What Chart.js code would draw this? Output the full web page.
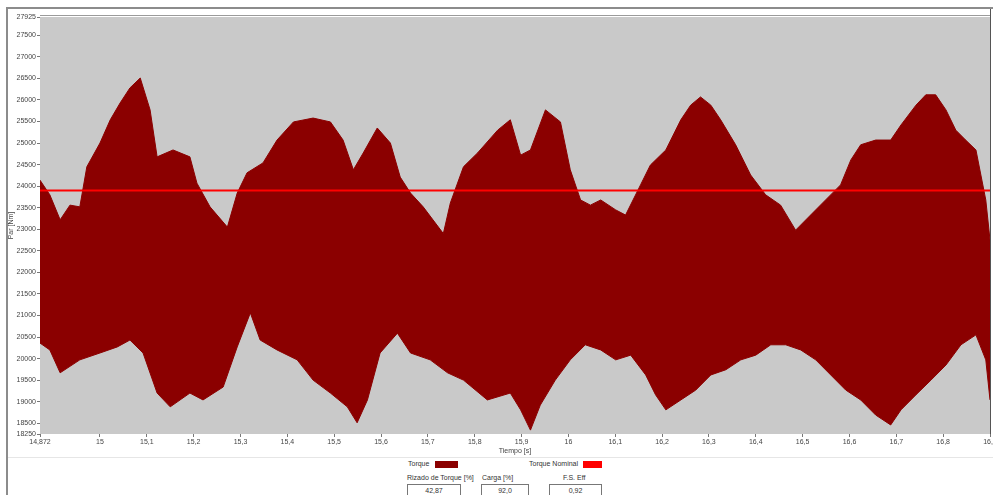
<!DOCTYPE html>
<html>
<head>
<meta charset="utf-8">
<script src="https://cdn.jsdelivr.net/npm/chart.js@4"></script>
<style>
  html, body { margin: 0; padding: 0; background: #fff; }
  body { width: 993px; height: 495px; position: relative; overflow: hidden; font-family: "Liberation Sans", Arial, sans-serif; }
  #frame { position: absolute; left: 6px; top: 7px; width: 993px; height: 495px; border-left: 2px solid #8c8c8c; border-top: 2px solid #8c8c8c; }
  #sep { position: absolute; left: 8px; top: 457px; width: 985px; height: 1px; background: #e6e6e6; }
  #wrap { position: absolute; left: 0; top: 0; width: 993px; height: 456px; }
  .lbl { position: absolute; font-size: 7px; color: #333; white-space: nowrap; }
  .sw { position: absolute; height: 7px; }
  .box { position: absolute; height: 11px; border: 1px solid #777; background: #fff; font-size: 7px; color: #333; text-align: center; line-height: 11px; }
</style>
</head>
<body>
<div id="frame"></div>
<div id="sep"></div>
<div id="wrap"><canvas id="torqueChart"></canvas></div>

<div class="lbl" style="left:408px; top:460px;">Torque</div>
<div class="sw" style="left:435px; top:461px; width:23px; background:#8b0000;"></div>
<div class="lbl" style="left:529px; top:460px;">Torque Nominal</div>
<div class="sw" style="left:583px; top:461px; width:19px; background:#ff0000;"></div>

<div class="lbl" style="left:407px; top:474px;">Rizado de Torque [%]</div>
<div class="lbl" style="left:482px; top:474px;">Carga [%]</div>
<div class="lbl" style="left:563px; top:474px;">F.S. Eff</div>
<div class="box" style="left:407px; top:484px; width:52px;">42,87</div>
<div class="box" style="left:481px; top:484px; width:46px;">92,0</div>
<div class="box" style="left:549px; top:484px; width:51px;">0,92</div>

<script>
// envolvente superior de la señal de torque
const tUpper = [14.872, 14.893, 14.915, 14.936, 14.957, 14.972, 15.000, 15.022, 15.043, 15.064,
  15.086, 15.107, 15.122, 15.156, 15.192, 15.207, 15.235, 15.272, 15.293, 15.314,
  15.348, 15.378, 15.413, 15.455, 15.492, 15.519, 15.541, 15.562, 15.592, 15.620,
  15.641, 15.663, 15.690, 15.733, 15.748, 15.776, 15.806, 15.849, 15.876, 15.898,
  15.919, 15.951, 15.983, 16.004, 16.026, 16.047, 16.069, 16.101, 16.122, 16.154,
  16.175, 16.208, 16.240, 16.261, 16.282, 16.304, 16.325, 16.357, 16.389, 16.421,
  16.453, 16.485, 16.517, 16.549, 16.581, 16.603, 16.624, 16.656, 16.688, 16.710,
  16.742, 16.763, 16.784, 16.806, 16.827, 16.848, 16.870, 16.891, 16.900];
const upper = [24140, 23800, 23220, 23560, 23520, 24450, 25000, 25540, 25930, 26280,
  26510, 25770, 24680, 24840, 24680, 24070, 23520, 23050, 23840, 24310,
  24540, 25070, 25490, 25580, 25490, 25070, 24380, 24770, 25350, 25000,
  24210, 23840, 23520, 22900, 23610, 24450, 24770, 25300, 25540, 24720,
  24840, 25770, 25490, 24380, 23680, 23560, 23680, 23450, 23330, 24030,
  24490, 24840, 25540, 25880, 26070, 25880, 25540, 24960, 24260, 23800,
  23560, 22980, 23330, 23680, 24030, 24610, 24960, 25070, 25070, 25420,
  25880, 26120, 26120, 25770, 25300, 25070, 24840, 23680, 22750];

// envolvente inferior
const tLower = [14.872, 14.893, 14.915, 14.957, 15.000, 15.037, 15.064, 15.092, 15.122, 15.150,
  15.192, 15.220, 15.263, 15.293, 15.321, 15.342, 15.378, 15.421, 15.455, 15.492,
  15.528, 15.549, 15.571, 15.598, 15.635, 15.663, 15.705, 15.742, 15.776, 15.827,
  15.876, 15.898, 15.919, 15.940, 15.972, 16.004, 16.036, 16.069, 16.101, 16.133,
  16.165, 16.186, 16.208, 16.240, 16.272, 16.304, 16.336, 16.368, 16.400, 16.432,
  16.464, 16.496, 16.528, 16.560, 16.592, 16.624, 16.656, 16.688, 16.710, 16.742,
  16.774, 16.806, 16.838, 16.870, 16.891, 16.900];
const lower = [20360, 20200, 19670, 19970, 20130, 20270, 20430, 20130, 19200, 18880,
  19200, 19040, 19340, 20270, 21060, 20430, 20200, 19970, 19500, 19200,
  18880, 18510, 19040, 20130, 20590, 20130, 19970, 19670, 19500, 19040,
  19200, 18810, 18340, 18920, 19500, 19970, 20320, 20200, 19970, 20080,
  19620, 19160, 18810, 19040, 19270, 19620, 19740, 19970, 20080, 20320,
  20320, 20200, 19970, 19620, 19270, 19040, 18690, 18460, 18810, 19160,
  19500, 19850, 20320, 20550, 19970, 19040];

const nominalTorque = 23900;

const xTicks = [14.872, 15, 15.1, 15.2, 15.3, 15.4, 15.5, 15.6, 15.7, 15.8, 15.9,
  16, 16.1, 16.2, 16.3, 16.4, 16.5, 16.6, 16.7, 16.8, 16.9];
const yTicks = [18250, 18500, 19000, 19500, 20000, 20500, 21000, 21500, 22000, 22500, 23000,
  23500, 24000, 24500, 25000, 25500, 26000, 26500, 27000, 27500, 27925];

const plotGray = '#c9c9c9';

const plotBackground = {
  id: 'plotBackground',
  beforeDraw(chart) {
    const { ctx, chartArea: a } = chart;
    ctx.save();
    ctx.fillStyle = plotGray;
    ctx.fillRect(a.left, a.top, a.right - a.left, a.bottom - a.top);
    ctx.restore();
  },
  afterDraw(chart) {
    const { ctx, chartArea: a } = chart;
    ctx.save();
    ctx.strokeStyle = '#9a9a9a';
    ctx.lineWidth = 1;
    ctx.beginPath();
    ctx.moveTo(a.left, a.top - 1.5);
    ctx.lineTo(a.right, a.top - 1.5);
    ctx.stroke();
    ctx.strokeStyle = '#555';
    ctx.beginPath();
    ctx.moveTo(a.right + 0.5, 9);
    ctx.lineTo(a.right + 0.5, a.bottom);
    ctx.stroke();
    ctx.restore();
  }
};

const toPoints = (xs, ys) => xs.map((x, i) => ({ x: x, y: ys[i] }));

Chart.defaults.font.family = '"Liberation Sans", Arial, sans-serif';
Chart.defaults.font.size = 7;
Chart.defaults.color = '#444';

const ctx = document.getElementById('torqueChart').getContext('2d');
const chart = new Chart(ctx, {
  type: 'line',
  data: {
    datasets: [
      {
        label: 'Torque Nominal',
        data: [{ x: xTicks[0], y: nominalTorque }, { x: xTicks[xTicks.length - 1], y: nominalTorque }],
        borderColor: '#ff0000',
        borderWidth: 2,
        pointRadius: 0,
        fill: false
      },
      {
        label: 'Torque (inf)',
        data: toPoints(tLower, lower),
        borderColor: '#8b0000',
        borderWidth: 1,
        backgroundColor: plotGray,
        pointRadius: 0,
        tension: 0,
        fill: 'start'
      },
      {
        label: 'Torque',
        data: toPoints(tUpper, upper),
        borderColor: '#8b0000',
        borderWidth: 1,
        backgroundColor: '#8b0000',
        pointRadius: 0,
        tension: 0,
        fill: 'start'
      }
    ]
  },
  options: {
    responsive: true,
    maintainAspectRatio: false,
    animation: false,
    layout: { padding: { top: 17, right: 3, left: 7, bottom: 0 } },
    plugins: {
      legend: { display: false },
      tooltip: { enabled: false }
    },
    scales: {
      x: {
        type: 'linear',
        min: 14.872,
        max: 16.9,
        afterBuildTicks: (scale) => { scale.ticks = xTicks.map(v => ({ value: v })); },
        afterFit: (scale) => {
          scale.height = 22;
          scale.paddingLeft = 0;
          scale.paddingRight = 0;
        },
        ticks: {
          autoSkip: false,
          maxRotation: 0,
          padding: 1,
          callback: (v) => String(v).replace('.', ',')
        },
        grid: { drawOnChartArea: false, tickLength: 3, color: '#777' },
        border: { display: false },
        title: { display: true, text: 'Tiempo [s]', padding: { top: 0, bottom: 1 }, color: '#444' }
      },
      y: {
        min: 18250,
        max: 27925,
        afterBuildTicks: (scale) => { scale.ticks = yTicks.map(v => ({ value: v })); },
        afterFit: (scale) => {
          scale.width = 33;
          scale.paddingTop = 0;
          scale.paddingBottom = 0;
        },
        ticks: { autoSkip: false, padding: 1, callback: (v) => String(v) },
        grid: { drawOnChartArea: false, tickLength: 3, color: '#777' },
        border: { display: false },
        title: { display: true, text: 'Par [Nm]', padding: { top: 0, bottom: 0 }, color: '#444' }
      }
    }
  },
  plugins: [plotBackground]
});
</script>
</body>
</html>
